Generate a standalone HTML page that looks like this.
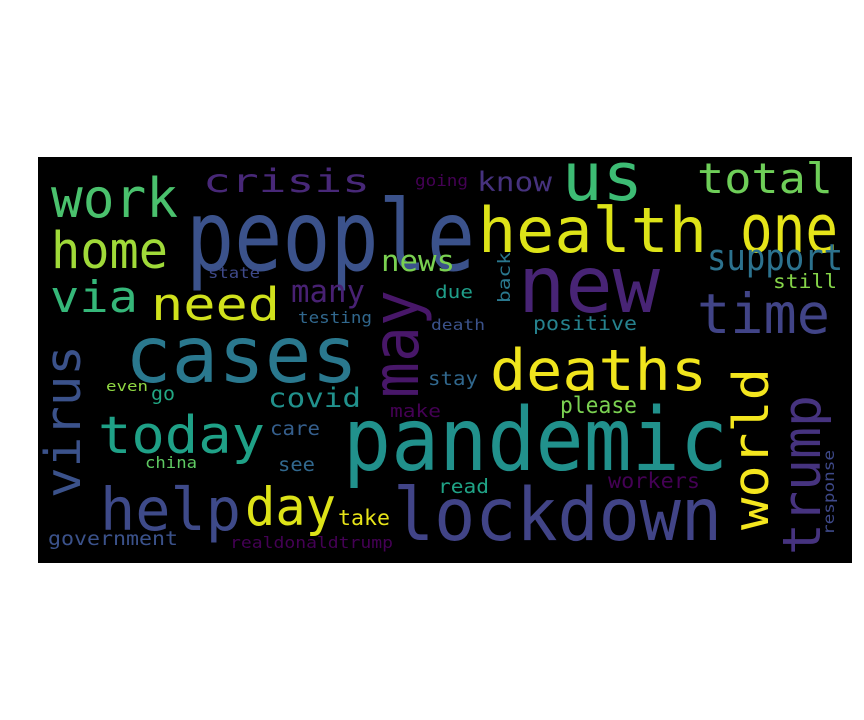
<!DOCTYPE html>
<html><head><meta charset="utf-8"><style>
html,body{margin:0;padding:0;background:#fff;width:864px;height:720px;overflow:hidden}
svg text{font-family:"DejaVu Sans Mono","Liberation Mono",monospace}
</style></head><body>
<svg width="864" height="720" viewBox="0 0 864 720">
<rect x="38" y="157" width="814" height="406" fill="#000"/>
<g id="words"></g>
</svg>
<script>
const words = ["people","crisis","work","home","via","need","news","state","many","testing","going","due","death","us","know","total","health","one","support","new","still","time","positive","cases","even","go","covid","make","today","care","china","see","help","day","take","government","realdonaldtrump","pandemic","lockdown","stay","read","deaths","please","workers"];
const x0s = [186,203,51,51,50,151,381,208,291,298,415,435,431,562,477,697,478,740,707,518,773,697,533,125,106,151,268,390,98,270,145,278,100,245,338,48,230,343,393,428,438,490,560,608];
const x1s = [475,370,178,168,138,280,455,260,365,372,468,473,485,643,552,833,707,838,843,660,837,830,637,358,148,175,361,441,265,320,197,315,241,336,390,178,393,728,722,478,489,707,637,700];
const bases = [270,192,217,268,312,320,271,278,302,323,186,298,330,200,191,193,252,252,270,312,288,333,330,382,391,400,407,417,453,435,468,471,530,525,525,545,548,470,540,385,493,390,413,488];
const sizes = [103,34,57,53,46,48,31,16,33,17,17,19,16,70,28,44,66,70,38,83,21,58,21,83,15,20,28,19,54,21,17,21,62,55,22,21,17,92,77,20,21,60,24,22];
const colors = ["#3b528b","#482878","#4ac16d","#a0da39","#35b779","#d0e11c","#7ad151","#3e4989","#482173","#31688e","#440154","#1f9e89","#3b528b","#3dbc74","#46327e","#6ece58","#dde318","#e5e419","#2c728e","#482475","#86d549","#414487","#26828e","#2a788e","#90d743","#22a884","#21918c","#440154","#1fa187","#355f8d","#5ec962","#31688e","#3e4a89","#dde318","#e7e419","#3b528b","#440154","#21918c","#414487","#31688e","#20a386","#f0e51d","#7ad151","#440154"];
const vWords = ["virus","may","back","world","trump","response"];
const vBaseX = [80,418,510,768,820,834];
const vStartY = [498,398,303,530,555,535];
const vEndY = [345,290,252,368,395,450];
const vSizes = [52,68,18,52,55,16];
const vColors = ["#3b528b","#481769","#2a788e","#f4e61e","#46337f","#3e4989"];

const NS="http://www.w3.org/2000/svg";
const g=document.getElementById('words');
const k=0.95;
words.forEach((w,i)=>{
  const t=document.createElementNS(NS,'text');
  
  
  t.setAttribute('x',x0s[i]);
  t.setAttribute('y',bases[i]);
  t.setAttribute('font-size',sizes[i]*k);
  t.setAttribute('fill',colors[i]);
  t.setAttribute('textLength',x1s[i]-x0s[i]);
  t.setAttribute('lengthAdjust','spacingAndGlyphs');
  t.textContent=w;
  g.appendChild(t);
});
vWords.forEach((w,i)=>{
  const t=document.createElementNS(NS,'text');
  
  
  t.setAttribute('x',0);
  t.setAttribute('y',0);
  t.setAttribute('transform','translate('+vBaseX[i]+','+vStartY[i]+') rotate(-90)');
  t.setAttribute('font-size',vSizes[i]*k);
  t.setAttribute('fill',vColors[i]);
  t.setAttribute('textLength',vStartY[i]-vEndY[i]);
  t.setAttribute('lengthAdjust','spacingAndGlyphs');
  t.textContent=w;
  g.appendChild(t);
});
</script>
</body></html>
